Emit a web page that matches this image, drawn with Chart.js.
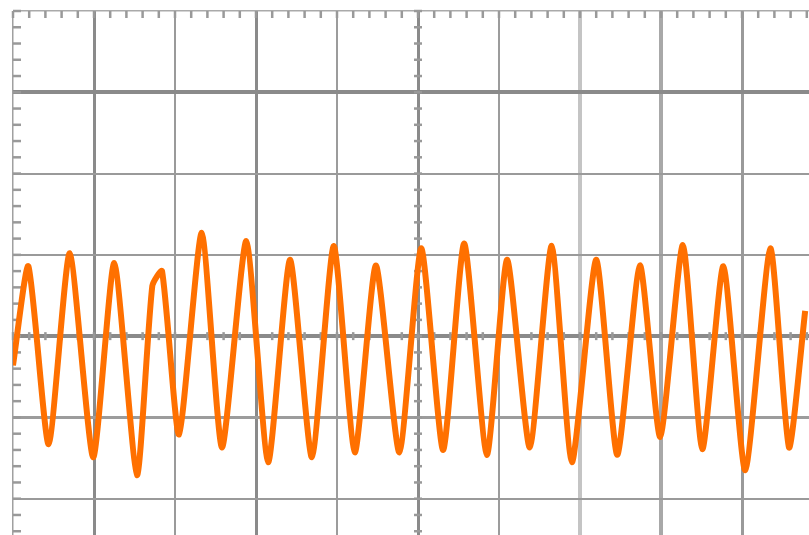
<!DOCTYPE html>
<html>
<head>
<meta charset="utf-8">
<script src="https://cdn.jsdelivr.net/npm/chart.js@4/dist/chart.umd.min.js"></script>
<style>
  html, body { margin: 0; padding: 0; background: #fff; overflow: hidden; width: 809px; height: 535px; }
  #wrap { position: absolute; left: 0; top: 0; width: 830px; height: 590px; }
</style>
</head>
<body>
<div id="wrap"><canvas id="c" width="830" height="590"></canvas></div>
<script>
// Time axis in screen divisions, voltage in divisions (centre = 0)
const timeDiv = [0, 0.19, 0.44, 0.70, 0.99, 1.25, 1.53, 1.72, 1.84, 2.05, 2.33, 2.58, 2.88, 3.15, 3.42, 3.69, 3.96, 4.22, 4.48, 4.77, 5.04, 5.31, 5.57, 5.85, 6.10, 6.38, 6.65, 6.90, 7.20, 7.46, 7.74, 7.99, 8.27, 8.51, 8.77, 9.04, 9.35, 9.58, 9.78];
const voltDiv = [-0.36, 0.86, -1.33, 1.02, -1.49, 0.90, -1.71, 0.62, 0.80, -1.21, 1.27, -1.37, 1.17, -1.55, 0.94, -1.49, 1.11, -1.43, 0.87, -1.43, 1.08, -1.40, 1.14, -1.46, 0.94, -1.37, 1.11, -1.55, 0.94, -1.46, 0.87, -1.24, 1.12, -1.39, 0.86, -1.65, 1.08, -1.37, 0.31];
const xTicks = [0, 1, 2, 3, 4, 5, 6, 7, 8, 9, 10];
const yTicks = [-3, -2, -1, 0, 1, 2, 3, 4];

const vColors = ['#a0a0a0', '#8a8a8a', '#9a9a9a', '#8a8a8a', '#9c9c9c', '#8a8a8a', '#9c9c9c', '#c4c4c4', '#a8a8a8', '#9a9a9a', '#9a9a9a'];
const vWidths = [1.5, 3, 2, 3, 2, 3, 2, 4, 4, 3, 2];
const hColors = {'-3': '#9a9a9a', '-2': '#9a9a9a', '-1': '#9c9c9c', '0': '#8a8a8a', '1': '#9a9a9a', '2': '#9a9a9a', '3': '#8a8a8a', '4': '#aaaaaa'};
const hWidths = {'-3': 2, '-2': 2, '-1': 3, '0': 4, '1': 2, '2': 2, '3': 4, '4': 1.5};

const minorTicks = {
  id: 'minorTicks',
  beforeDatasetsDraw(chart) {
    const ctx = chart.ctx, xs = chart.scales.x, ys = chart.scales.y, a = chart.chartArea;
    ctx.save();
    ctx.strokeStyle = '#999999';
    ctx.lineWidth = 2.5;
    const y0 = ys.getPixelForValue(0), x0 = xs.getPixelForValue(5);
    for (let i = 0; i <= 50; i++) {
      const px = xs.getPixelForValue(i * 0.2);
      ctx.beginPath(); ctx.moveTo(px, y0 - 4); ctx.lineTo(px, y0 + 4); ctx.stroke();
      ctx.beginPath(); ctx.moveTo(px, a.top); ctx.lineTo(px, a.top + 7); ctx.stroke();
    }
    for (let j = -15; j <= 20; j++) {
      const py = ys.getPixelForValue(j * 0.2);
      ctx.beginPath(); ctx.moveTo(x0 - 4, py); ctx.lineTo(x0 + 4, py); ctx.stroke();
      ctx.beginPath(); ctx.moveTo(a.left, py); ctx.lineTo(a.left + 8, py); ctx.stroke();
    }
    ctx.restore();
  }
};

new Chart(document.getElementById('c'), {
  type: 'line',
  data: {
    datasets: [{
      data: timeDiv.map((t, i) => ({ x: t, y: voltDiv[i] })),
      borderColor: '#ff7000',
      borderWidth: 6,
      pointRadius: 0,
      tension: 0.2,
      borderJoinStyle: 'round',
      fill: false
    }]
  },
  options: {
    responsive: false,
    devicePixelRatio: 1,
    animation: false,
    layout: { padding: { left: 13, top: 11, right: 7, bottom: 10 } },
    plugins: { legend: { display: false }, tooltip: { enabled: false } },
    scales: {
      x: {
        type: 'linear', min: 0, max: 10,
        afterBuildTicks: s => { s.ticks = xTicks.map(v => ({ value: v })); },
        ticks: { display: false },
        border: { display: false },
        grid: {
          drawTicks: false,
          color: c => vColors[c.index] || '#999',
          lineWidth: c => vWidths[c.index] || 2
        }
      },
      y: {
        type: 'linear', min: -3, max: 4,
        afterBuildTicks: s => { s.ticks = yTicks.map(v => ({ value: v })); },
        ticks: { display: false },
        border: { display: false },
        grid: {
          drawTicks: false,
          color: c => hColors[String(c.tick.value)] || '#999',
          lineWidth: c => hWidths[String(c.tick.value)] || 2
        }
      }
    }
  },
  plugins: [minorTicks]
});
</script>
</body>
</html>
